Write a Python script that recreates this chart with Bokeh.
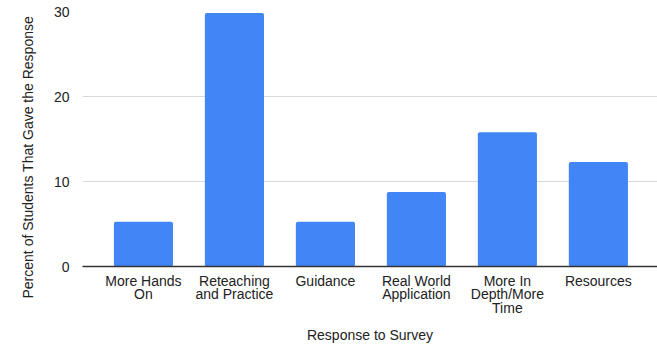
from bokeh.plotting import figure
from bokeh.models import ColumnDataSource, FixedTicker, Range1d, Title
from bokeh.embed import file_html
from bokeh.resources import INLINE

categories = ["More Hands\nOn", "Reteaching\nand Practice", "Guidance",
              "Real World\nApplication", "More In\nDepth/More\nTime", "Resources"]
values = [5.26, 29.82, 5.26, 8.77, 15.79, 12.28]
y_ticks = [0, 10, 20, 30]

FONT = "Liberation Sans"
idx = list(range(len(categories)))
src = ColumnDataSource(dict(x=idx, top=values))

p = figure(width=657, height=348, output_backend="svg", toolbar_location=None,
           x_range=Range1d(-0.67, 5.65), y_range=Range1d(0, 30),
           min_border_left=82, min_border_right=0, min_border_top=11,
           min_border_bottom=82)
p.outline_line_color = None

p.vbar(x="x", top="top", width=0.65, bottom=0, source=src,
       fill_color="#4285F4", line_color=None, border_radius=2)

p.xgrid.grid_line_color = None
p.ygrid.grid_line_color = "#d9d9d9"
p.ygrid.ticker = FixedTicker(ticks=y_ticks)

p.yaxis.ticker = FixedTicker(ticks=y_ticks)
p.yaxis.axis_line_color = None
p.yaxis.major_tick_line_color = None
p.yaxis.minor_tick_line_color = None
p.yaxis.major_label_standoff = 7
p.yaxis.major_label_text_font = FONT
p.yaxis.major_label_text_font_size = "14px"
p.yaxis.major_label_text_color = "#222222"

p.xaxis.ticker = FixedTicker(ticks=idx)
p.xaxis.major_label_overrides = {i: c for i, c in zip(idx, categories)}
p.xaxis.axis_line_color = "#333333"
p.xaxis.axis_line_width = 1.5
p.xaxis.major_tick_line_color = None
p.xaxis.minor_tick_line_color = None
p.xaxis.major_label_standoff = 0
p.xaxis.major_label_text_font = FONT
p.xaxis.major_label_text_font_size = "14px"
p.xaxis.major_label_text_line_height = 0.85
p.xaxis.major_label_text_color = "#222222"
p.xaxis.axis_label = "Response to Survey"
p.xaxis.axis_label_text_font = FONT
p.xaxis.axis_label_text_font_style = "normal"
p.xaxis.axis_label_text_font_size = "14px"
p.xaxis.axis_label_text_color = "#222222"
p.xaxis.axis_label_standoff = 8

ytitle = Title(text="Percent of Students That Gave the Response", align="left",
               offset=-32, standoff=30, text_font=FONT, text_font_size="14px",
               text_font_style="normal", text_color="#222222")
p.add_layout(ytitle, "left")

open("out.html", "w").write(file_html(p, INLINE))
